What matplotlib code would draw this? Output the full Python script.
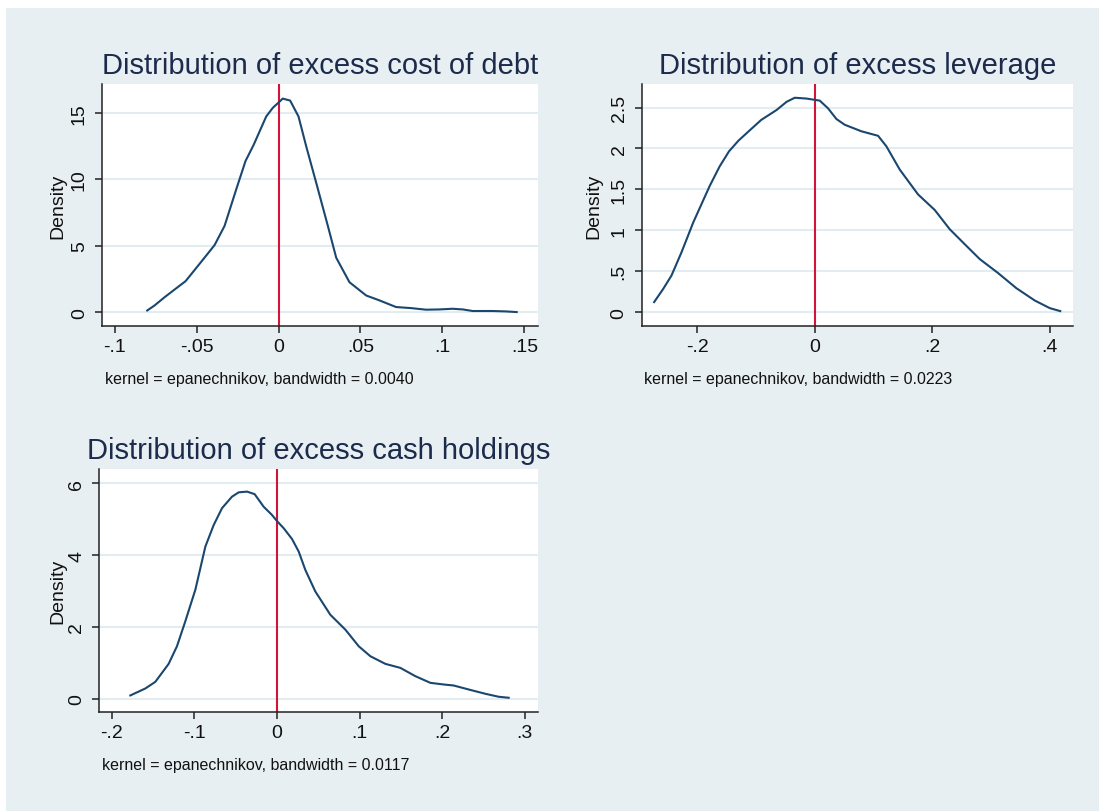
import matplotlib
matplotlib.use("Agg")
import matplotlib.pyplot as plt
from matplotlib.patches import Rectangle
from matplotlib.transforms import offset_copy

plt.rcParams['font.family'] = ['Liberation Sans', 'DejaVu Sans']

# kernel density estimates (x, density)
debt_x = [-0.0801, -0.0756, -0.0695, -0.0634, -0.0567, -0.0482, -0.039, -0.0329, -0.0258,
          -0.0201, -0.0152, -0.0075, -0.0035, 0.0, 0.0026, 0.0071, 0.0122, 0.0169, 0.023,
          0.0301, 0.0352, 0.0433, 0.0535, 0.0616, 0.0717, 0.0809, 0.09, 0.0982, 0.1063,
          0.1124, 0.1185, 0.1307, 0.1388, 0.1453]
debt_y = [0.12, 0.5, 1.12, 1.7, 2.33, 3.63, 5.05, 6.5, 9.25, 11.4, 12.6, 14.75, 15.4, 15.8,
          16.1, 15.95, 14.75, 12.5, 9.75, 6.5, 4.1, 2.25, 1.25, 0.88, 0.38, 0.3, 0.18, 0.2,
          0.25, 0.2, 0.08, 0.08, 0.05, 0.0]

lev_x = [-0.2735, -0.258, -0.244, -0.227, -0.207, -0.179, -0.162, -0.146, -0.130, -0.111,
         -0.091, -0.065, -0.048, -0.034, -0.014, 0.0085, 0.0227, 0.0369, 0.051, 0.0794,
         0.1078, 0.122, 0.1447, 0.1759, 0.2043, 0.2298, 0.2553, 0.2809, 0.312, 0.3433,
         0.3745, 0.40, 0.418]
lev_y = [0.122, 0.284, 0.446, 0.729, 1.094, 1.54, 1.78, 1.965, 2.095, 2.22, 2.35, 2.47,
         2.57, 2.62, 2.61, 2.585, 2.49, 2.36, 2.29, 2.21, 2.155, 2.026, 1.742, 1.438, 1.248,
         1.013, 0.83, 0.648, 0.478, 0.292, 0.142, 0.049, 0.012]

cash_x = [-0.1777, -0.1595, -0.1474, -0.1313, -0.1212, -0.1111, -0.0989, -0.0868, -0.0767,
          -0.0666, -0.0545, -0.0464, -0.0363, -0.0271, -0.0162, -0.0061, 0.0, 0.0081, 0.0182,
          0.0263, 0.0343, 0.0464, 0.0646, 0.0828, 0.099, 0.1131, 0.1313, 0.1494, 0.1676,
          0.1858, 0.2019, 0.214, 0.2322, 0.2524, 0.2686, 0.2807]
cash_y = [0.093, 0.287, 0.472, 0.972, 1.463, 2.157, 3.04, 4.24, 4.84, 5.31, 5.63, 5.75,
          5.77, 5.70, 5.35, 5.12, 4.95, 4.75, 4.45, 4.10, 3.59, 2.99, 2.34, 1.926, 1.463,
          1.185, 0.972, 0.861, 0.63, 0.444, 0.398, 0.370, 0.259, 0.139, 0.056, 0.028]

titles = ["Distribution of excess cost of debt",
          "Distribution of excess leverage",
          "Distribution of excess cash holdings"]
notes = ["kernel = epanechnikov, bandwidth = 0.0040",
         "kernel = epanechnikov, bandwidth = 0.0223",
         "kernel = epanechnikov, bandwidth = 0.0117"]

debt_xticks = [-0.1, -0.05, 0, 0.05, 0.1, 0.15]
debt_xlabels = ["-.1", "-.05", "0", ".05", ".1", ".15"]
debt_yticks = [0, 5, 10, 15]
debt_ylabels = ["0", "5", "10", "15"]

lev_xticks = [-0.2, 0, 0.2, 0.4]
lev_xlabels = ["-.2", "0", ".2", ".4"]
lev_yticks = [0, 0.5, 1, 1.5, 2, 2.5]
lev_ylabels = ["0", ".5", "1", "1.5", "2", "2.5"]

cash_xticks = [-0.2, -0.1, 0, 0.1, 0.2, 0.3]
cash_xlabels = ["-.2", "-.1", "0", ".1", ".2", ".3"]
cash_yticks = [0, 2, 4, 6]
cash_ylabels = ["0", "2", "4", "6"]

W, H = 1099, 812
bg = '#e8eff2'
navy = '#1a476f'
red = '#d2143a'
grid = '#e3ecf0'
title_col = '#1c2b4c'

fig = plt.figure(figsize=(W / 100, H / 100), dpi=100)
fig.patch.set_facecolor('white')
fig.patches.append(Rectangle((6 / W, 0), 1, 1 - 9 / H, transform=fig.transFigure,
                             facecolor=bg, edgecolor='none', zorder=-10))


def panel(rect, x, y, xlim, ylim, xticks, xlabels, yticks, ylabels, title, note, label_off):
    ax = fig.add_axes(rect)
    ax.set_facecolor('white')
    for yt in yticks:
        ax.axhline(yt, color=grid, lw=1.5, zorder=0)
    ax.plot(x, y, color=navy, lw=1.5, zorder=3)
    ax.axvline(0, color=red, lw=1.5, zorder=2)
    ax.set_xlim(*xlim)
    ax.set_ylim(*ylim)
    ax.set_xticks(xticks)
    ax.set_xticklabels(xlabels)
    ax.set_yticks(yticks)
    ax.set_yticklabels(ylabels, rotation=90, va='center')
    for s in ['top', 'right']:
        ax.spines[s].set_visible(False)
    for s in ['left', 'bottom']:
        ax.spines[s].set_color('#222222')
        ax.spines[s].set_linewidth(1.1)
    ax.tick_params(length=5, width=1.1, color='#222222', labelsize=14,
                   labelcolor='#111111')
    ax.tick_params(axis='x', pad=4)
    ax.tick_params(axis='y', pad=5)
    ax.set_ylabel("Density", fontsize=14, color='#111111', va='center')
    ax.yaxis.set_label_coords(label_off, 0.5)
    tr = offset_copy(ax.transAxes, fig=fig, y=11, units='dots')
    ax.text(0.5, 1.0, title, transform=tr, ha='center', va='baseline',
            fontsize=21, color=title_col)
    tr2 = offset_copy(ax.transAxes, fig=fig, x=3, y=-57, units='dots')
    ax.text(0.0, 0.0, note, transform=tr2, ha='left', va='baseline',
            fontsize=11.5, color='#111111')
    return ax


panel([101.8 / W, 1 - 327 / H, 435.7 / W, 242 / H], debt_x, debt_y,
      (-0.1078, 0.158), (-1.05, 17.2), debt_xticks, debt_xlabels,
      debt_yticks, debt_ylabels, titles[0], notes[0], -44 / 435.7)
panel([641.5 / W, 1 - 327 / H, 431.5 / W, 242 / H], lev_x, lev_y,
      (-0.295, 0.4397), (-0.17, 2.788), lev_xticks, lev_xlabels,
      lev_yticks, lev_ylabels, titles[1], notes[1], -48 / 431.5)
panel([99.3 / W, 1 - 712.7 / H, 438.2 / W, 242.7 / H], cash_x, cash_y,
      (-0.2153, 0.3156), (-0.36, 6.40), cash_xticks, cash_xlabels,
      cash_yticks, cash_ylabels, titles[2], notes[2], -41 / 438.2)

fig.savefig('out.png', dpi=100)
